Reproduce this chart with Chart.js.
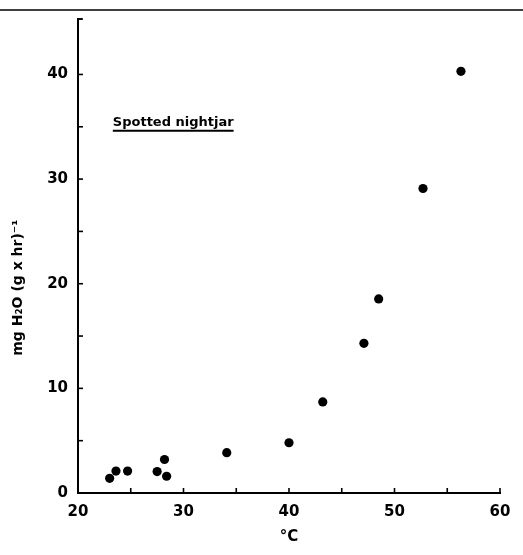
<!DOCTYPE html>
<html>
<head>
<meta charset="utf-8">
<script src="https://cdn.jsdelivr.net/npm/chart.js@4"></script>
<style>
html,body{margin:0;padding:0;background:#fff;}
#wrap{width:523px;height:555px;}
</style>
</head>
<body>
<div id="wrap"><canvas id="c" width="523" height="555"></canvas></div>
<script>
const temperatureC = [23.0, 23.6, 24.7, 27.5, 28.2, 28.4, 34.1, 40.0, 43.2, 47.1, 48.5, 52.7, 56.3];
const waterLoss = [1.4, 2.1, 2.1, 2.05, 3.2, 1.6, 3.85, 4.8, 8.7, 14.3, 18.55, 29.1, 40.3];
const xTickValues = [20, 30, 40, 50, 60];
const yTickValues = [0, 10, 20, 30, 40];
const speciesLabel = 'Spotted nightjar';
const xTitle = '°C';
const yTitle = 'mg H\u2082O (g x hr)\u207B\u00B9';

const points = temperatureC.map((t, i) => ({x: t, y: waterLoss[i]}));
const FONT = 'DejaVu Sans';

const inwardTicks = {
  id: 'inwardTicks',
  afterDraw(chart) {
    const ctx = chart.ctx;
    const xs = chart.scales.x, ys = chart.scales.y;
    const area = chart.chartArea;
    ctx.save();
    ctx.strokeStyle = '#000';
    ctx.lineWidth = 1.6;
    xs.ticks.forEach(t => {
      const px = xs.getPixelForValue(t.value);
      ctx.beginPath();
      ctx.moveTo(px, area.bottom);
      ctx.lineTo(px, area.bottom - 5);
      ctx.stroke();
    });
    ys.ticks.forEach(t => {
      const py = ys.getPixelForValue(t.value);
      ctx.beginPath();
      ctx.moveTo(area.left, py);
      ctx.lineTo(area.left + 5, py);
      ctx.stroke();
    });
    ctx.beginPath();
    ctx.moveTo(area.left, area.top);
    ctx.lineTo(area.left + 4, area.top);
    ctx.stroke();
    ctx.lineWidth = 1.5;
    ctx.beginPath();
    ctx.moveTo(0, 10);
    ctx.lineTo(chart.width, 10);
    ctx.stroke();
    ctx.fillStyle = '#000';
    ctx.font = 'bold 13px ' + FONT;
    ctx.textBaseline = 'alphabetic';
    ctx.textAlign = 'left';
    const lx = xs.getPixelForValue(23.3);
    const ly = ys.getPixelForValue(35.1);
    ctx.fillText(speciesLabel, lx, ly);
    const w = ctx.measureText(speciesLabel).width;
    ctx.lineWidth = 1.8;
    ctx.beginPath();
    ctx.moveTo(lx, ly + 5);
    ctx.lineTo(lx + w, ly + 5);
    ctx.stroke();
    ctx.restore();
  }
};

new Chart(document.getElementById('c'), {
  type: 'scatter',
  data: {
    datasets: [{
      data: points,
      backgroundColor: '#000',
      borderColor: '#000',
      pointRadius: 4.6,
      pointHoverRadius: 4.6,
      borderWidth: 0
    }]
  },
  options: {
    responsive: false,
    animation: false,
    events: [],
    layout: {padding: {left: 0, top: 16, right: 23, bottom: 0}},
    plugins: {legend: {display: false}, tooltip: {enabled: false}},
    scales: {
      x: {
        type: 'linear',
        min: 20, max: 60,
        afterFit(s) { s.height = 62; },
        border: {display: true, color: '#000', width: 2},
        grid: {display: false, drawTicks: false},
        ticks: {
          stepSize: 5,
          color: '#000',
          padding: 10,
          maxRotation: 0,
          font: {family: FONT, size: 15, weight: 'bold'},
          callback: v => xTickValues.includes(v) ? String(v) : ''
        },
        title: {
          display: true, text: xTitle, color: '#000',
          font: {family: FONT, size: 15, weight: 'bold'},
          padding: {top: 0, bottom: 9}
        }
      },
      y: {
        type: 'linear',
        min: 0, max: 45.3,
        afterFit(s) { s.width = 78; },
        border: {display: true, color: '#000', width: 2},
        grid: {display: false, drawTicks: false},
        ticks: {
          stepSize: 5,
          color: '#000',
          padding: 10,
          font: {family: FONT, size: 15, weight: 'bold'},
          callback: v => yTickValues.includes(v) ? String(v) : ''
        },
        title: {
          display: true, text: yTitle + '\u00A0'.repeat(13), color: '#000',
          font: {family: FONT, size: 14, weight: 'bold'},
          padding: {top: 10, bottom: 0}
        }
      }
    }
  },
  plugins: [inwardTicks]
});
</script>
</body>
</html>
